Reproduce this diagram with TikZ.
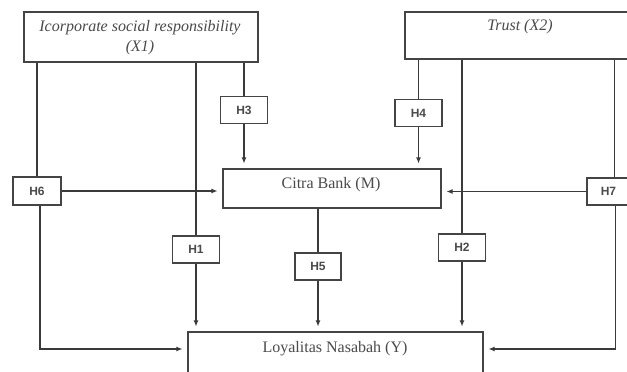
\documentclass[tikz,border=0pt]{standalone}
\usepackage{fontspec}
\setmainfont{Liberation Serif}
\newfontfamily\hfont{Liberation Sans}
\usetikzlibrary{arrows.meta}
\definecolor{linec}{HTML}{3A3A3A}
\definecolor{boxc}{HTML}{444444}
\definecolor{txtc}{HTML}{4A4A4A}
\begin{document}
\begin{tikzpicture}[x=1pt,y=-1pt,
  box/.style={draw=boxc, line width=1.1pt, inner sep=0pt},
  hbox/.style={draw=boxc, line width=1.1pt, minimum width=47pt, minimum height=27pt, inner sep=0pt, font=\hfont\bfseries\fontsize{12}{14}\selectfont, text=txtc},
  txt/.style={font=\fontsize{16}{20}\selectfont, text=txtc, align=center},
  conn/.style={draw=linec, line width=1.1pt},
  arr/.style={conn, -{Latex[length=6pt,width=5pt]}, shorten >=5pt}]
\useasboundingbox[fill=white] (0,0) rectangle (627,372);
% main boxes
\node[box, minimum width=234pt, minimum height=50pt] (x1) at (141,37) {};
\node[txt, font=\fontsize{16}{20}\selectfont\itshape] (x1t) at (140,38) {Icorporate social responsibility\\(X1)};
\node[box, minimum width=227pt, minimum height=47pt] (x2) at (518.5,35.5) {};
\node[txt, font=\fontsize{16}{20}\selectfont\itshape] (x2t) at (520,27) {Trust (X2)};
\node[box, minimum width=218pt, minimum height=39pt] (cb) at (332,188.5) {};
\node[txt] (cbt) at (331,185) {Citra Bank (M)};
\node[box, minimum width=295pt, minimum height=50pt] (ly) at (335.5,357) {};
\node[txt] (lyt) at (335,349) {Loyalitas Nasabah (Y)};
% hypothesis boxes
\node[hbox] (h3) at (244,110) {H3};
\node[hbox] (h4) at (418.5,113) {H4};
\node[hbox, minimum width=48pt, minimum height=28pt] (h6) at (37,191) {H6};
\node[hbox, minimum width=43pt] (h7) at (608.5,191.5) {H7};
\node[hbox] (h1) at (196,249.5) {H1};
\node[hbox, minimum width=46pt] (h5) at (318,266.5) {H5};
\node[hbox] (h2) at (462,247.5) {H2};
% connectors from X1
\draw[conn] (x1.south -| h6.north) -- (h6.north);
\draw[arr] (h6.east) -- (h6.east -| cb.west);
\draw[arr] ([xshift=3pt]h6.south) |- (lyt -| ly.west);
\draw[conn] (x1.south -| h1.north) -- (h1.north);
\draw[arr] (h1.south) -- (h1.south |- ly.north);
\draw[conn] (x1.south -| h3.north) -- (h3.north);
\draw[arr] (h3.south) -- (h3.south |- cb.north);
% mediator
\draw[conn] (cb.south -| h5.north) -- (h5.north);
\draw[arr] (h5.south) -- (h5.south |- ly.north);
% connectors from X2
\draw[conn] (x2.south -| h4.north) -- (h4.north);
\draw[arr] (h4.south) -- (h4.south |- cb.north);
\draw[conn] (x2.south -| h2.north) -- (h2.north);
\draw[arr] (h2.south) -- (h2.south |- ly.north);
\draw[conn] ([xshift=6pt]x2.south -| h7.north) -- ([xshift=6pt]h7.north);
\draw[arr] (h7.west) -- (h7.west -| cb.east);
\draw[arr] ([xshift=7pt]h7.south) |- (lyt -| ly.east);
\end{tikzpicture}
\end{document}
